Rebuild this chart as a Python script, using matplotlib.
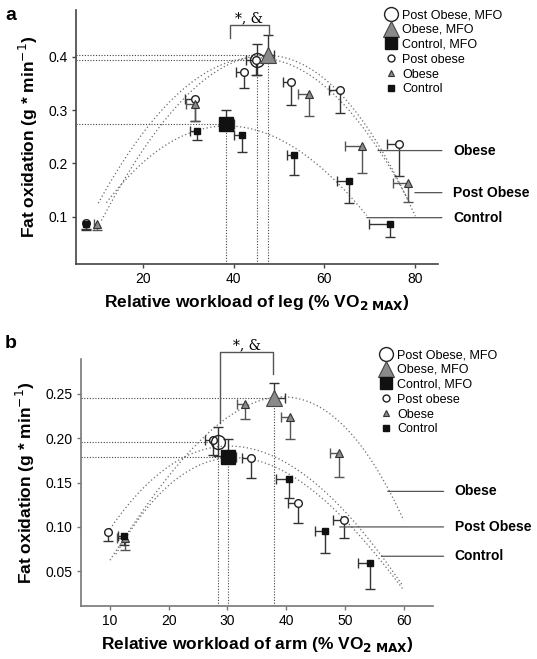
import numpy as np
import matplotlib
matplotlib.use("Agg")
import matplotlib.pyplot as plt
from matplotlib.lines import Line2D

plt.rcParams['font.family'] = ['Liberation Sans', 'DejaVu Sans']

# ---------------- Panel a (leg) data ----------------
post_leg_x = [7.4, 31.4, 42.2, 45.0, 52.7, 63.5, 76.5]
post_leg_y = [0.088, 0.320, 0.372, 0.395, 0.352, 0.338, 0.236]
post_leg_yerr = [0.012, 0.040, 0.031, 0.029, 0.043, 0.044, 0.059]
post_leg_xerr = [0.0, 2.0, 1.7, 2.3, 1.8, 2.5, 2.8]

obese_leg_x = [10.0, 31.6, 56.7, 68.3, 78.4]
obese_leg_y = [0.087, 0.311, 0.331, 0.232, 0.164]
obese_leg_yerr = [0.013, 0.031, 0.042, 0.051, 0.037]
obese_leg_xerr = [0.8, 2.0, 2.6, 3.7, 3.4]

ctrl_leg_x = [7.4, 32.0, 41.8, 53.4, 65.4, 74.4]
ctrl_leg_y = [0.087, 0.261, 0.253, 0.215, 0.167, 0.087]
ctrl_leg_yerr = [0.012, 0.017, 0.032, 0.037, 0.041, 0.026]
ctrl_leg_xerr = [0.0, 1.7, 1.7, 1.7, 2.7, 4.5]

# MFO points (post obese, obese, control)
mfo_leg_x = [45.1, 47.6, 38.4]
mfo_leg_y = [0.395, 0.403, 0.274]
mfo_leg_yerr_up = [0.030, 0.038, 0.027]
mfo_leg_xerr_right = [0.0, 1.2, 1.6]

# fitted curves, points
post_leg_curve_x = [10.2, 14.1, 20.1, 27.3, 34.7, 42.0, 45.1, 53.0, 60.5, 67.8, 73.7, 78.7]
post_leg_curve_y = [0.115, 0.190, 0.265, 0.330, 0.372, 0.391, 0.395, 0.380, 0.341, 0.287, 0.206, 0.119]
obese_leg_curve_x = [10.9, 15.7, 27.4, 34.7, 42.0, 47.5, 55.0, 62.0, 67.0, 71.8, 80.0]
obese_leg_curve_y = [0.090, 0.169, 0.313, 0.359, 0.390, 0.403, 0.390, 0.350, 0.300, 0.224, 0.104]
ctrl_leg_curve_x = [12.0, 15.0, 19.4, 24.5, 30.5, 38.4, 47.3, 56.9, 63.4, 69.3]
ctrl_leg_curve_y = [0.120, 0.165, 0.200, 0.228, 0.255, 0.273, 0.253, 0.209, 0.162, 0.100]

# ---------------- Panel b (arm) data ----------------
post_arm_x = [9.7, 27.6, 34.0, 42.1, 49.8]
post_arm_y = [0.094, 0.198, 0.178, 0.127, 0.108]
post_arm_yerr = [0.010, 0.017, 0.023, 0.023, 0.020]
post_arm_xerr = [0.0, 1.5, 1.6, 1.8, 1.9]

obese_arm_x = [12.5, 33.0, 40.7, 49.0]
obese_arm_y = [0.087, 0.238, 0.224, 0.183]
obese_arm_yerr = [0.013, 0.017, 0.025, 0.027]
obese_arm_xerr = [1.3, 1.4, 1.5, 1.6]

ctrl_arm_x = [12.4, 40.5, 46.6, 54.2]
ctrl_arm_y = [0.090, 0.154, 0.095, 0.059]
ctrl_arm_yerr = [0.010, 0.022, 0.024, 0.029]
ctrl_arm_xerr = [1.0, 2.2, 1.7, 2.0]

mfo_arm_x = [28.4, 37.9, 30.1]
mfo_arm_y = [0.196, 0.245, 0.179]
mfo_arm_yerr_up = [0.016, 0.017, 0.020]
mfo_arm_xerr_right = [0.0, 1.9, 1.4]

obese_arm_curve_x = [10.0, 14.0, 20.8, 23.0, 25.3, 28.4, 33.0, 37.9, 45.0, 52.0, 57.3, 60.0]
obese_arm_curve_y = [0.061, 0.108, 0.157, 0.179, 0.198, 0.219, 0.237, 0.245, 0.235, 0.200, 0.141, 0.109]
post_arm_curve_x = [10.0, 12.3, 17.9, 23.6, 28.4, 37.8, 45.7, 52.5, 59.9]
post_arm_curve_y = [0.101, 0.116, 0.153, 0.182, 0.196, 0.178, 0.142, 0.101, 0.033]
ctrl_arm_curve_x = [11.0, 15.0, 20.0, 25.0, 30.1, 40.0, 47.4, 53.0, 60.0]
ctrl_arm_curve_y = [0.070, 0.110, 0.145, 0.168, 0.179, 0.164, 0.123, 0.085, 0.030]

legend_labels = ['Post Obese, MFO', 'Obese, MFO', 'Control, MFO',
                 'Post obese', 'Obese', 'Control']
curve_labels = ['Obese', 'Post Obese', 'Control']

W, H = 537, 659
fig = plt.figure(figsize=(W / 100, H / 100), dpi=100)

GREY_TRI = '#8a8a8a'
CURVE_C = '#6a6a6a'
ERR_C = '#333333'


def px_axes(l, t, r, b):
    return fig.add_axes([l / W, 1 - b / H, (r - l) / W, (b - t) / H])


def one_sided(ax, x, y, xerr, yerr, color, up=False, right=False, z=3):
    x = np.asarray(x); y = np.asarray(y)
    xerr = np.asarray(xerr); yerr = np.asarray(yerr)
    sign_y = 1 if up else -1
    sign_x = 1 if right else -1
    ax.vlines(x, y, y + sign_y * yerr, color=color, lw=1.0, zorder=z)
    ax.plot(x[yerr > 0], (y + sign_y * yerr)[yerr > 0], ls='none', marker='_',
            ms=7, mew=1.0, color=color, zorder=z)
    m = xerr > 0
    ax.hlines(y[m], x[m], x[m] + sign_x * xerr[m], color=color, lw=1.0, zorder=z)
    ax.plot((x + sign_x * xerr)[m], y[m], ls='none', marker='|', ms=7, mew=1.0,
            color=color, zorder=z)


def curve(ax, cx, cy):
    c = np.polyfit(cx, cy, 3)
    xs = np.linspace(min(cx), max(cx), 200)
    ax.plot(xs, np.polyval(c, xs), ls=(0, (1, 2)), color=CURVE_C, lw=0.9, zorder=2)


def panel(ax, xlim, ylim, xticks, yticks, yfmt,
          post, obese, ctrl, mfo, curves, labels_pos, bracket, xlabel, spine_c):
    ax.set_xlim(*xlim)
    ax.set_ylim(*ylim)
    for s in ['top', 'right']:
        ax.spines[s].set_visible(False)
    for s in ['left', 'bottom']:
        ax.spines[s].set_color(spine_c)
        ax.spines[s].set_linewidth(1.2)
    ax.set_xticks(xticks)
    ax.set_yticks(yticks)
    ax.set_yticklabels([yfmt.format(v) for v in yticks])
    ax.tick_params(direction='out', length=3, width=1, color=spine_c,
                   labelsize=10, pad=3)
    ax.set_ylabel('Fat oxidation (g * min$^{-1}$)', fontsize=12.5,
                  fontweight='bold', labelpad=6)
    ax.set_xlabel(xlabel, fontsize=12.5, fontweight='bold', labelpad=5)

    # curves
    for cx, cy in curves:
        curve(ax, cx, cy)

    # reference dotted lines from MFO points
    mx, my = mfo[0], mfo[1]
    for xv, yv in zip(mx, my):
        ax.plot([xlim[0], xv], [yv, yv], ls=(0, (1, 1.5)), color='#444444', lw=0.8, zorder=1)
        ax.plot([xv, xv], [ylim[0], yv], ls=(0, (1, 1.5)), color='#444444', lw=0.8, zorder=1)

    # error bars
    px, py, pye, pxe = post
    ox, oy, oye, oxe = obese
    cx_, cy_, cye, cxe = ctrl
    one_sided(ax, px, py, pxe, pye, ERR_C)
    one_sided(ax, ox, oy, oxe, oye, '#555555')
    one_sided(ax, cx_, cy_, cxe, cye, ERR_C)
    mye_up, mxe_r = mfo[2], mfo[3]
    one_sided(ax, mx, my, mxe_r, mye_up, ERR_C, up=True, right=True)
    # post obese MFO has symmetric vertical error bar
    one_sided(ax, [mx[0]], [my[0]], [0.0], [mye_up[0]], ERR_C)

    # markers
    ax.plot(px, py, ls='none', marker='o', ms=5.5, mfc='white', mec='#222222', mew=1.0, zorder=5)
    ax.plot(ox, oy, ls='none', marker='^', ms=5.5, mfc=GREY_TRI, mec='#333333', mew=0.8, zorder=5)
    ax.plot(cx_, cy_, ls='none', marker='s', ms=5, mfc='#111111', mec='#111111', zorder=5)
    ax.plot(mx[0], my[0], ls='none', marker='o', ms=10, mfc='none', mec='#222222', mew=1.0, zorder=6)
    ax.plot(mx[1], my[1], ls='none', marker='^', ms=11, mfc=GREY_TRI, mec='#444444', mew=0.8, zorder=6)
    ax.plot(mx[2], my[2], ls='none', marker='s', ms=10, mfc='#111111', mec='#111111', zorder=6)

    # curve labels with leader lines
    for lab, (x0, y0, xt) in zip(curve_labels, labels_pos):
        ax.annotate(lab, xy=(x0, y0), xytext=(xt, y0), textcoords='data',
                    ha='left', va='center', fontsize=10, fontweight='bold',
                    annotation_clip=False,
                    arrowprops=dict(arrowstyle='-', color='#555555', lw=0.9,
                                    shrinkA=6, shrinkB=0))

    # significance bracket
    bx0, bx1, btop, bl, br = bracket
    ax.plot([bx0, bx0, bx1, bx1], [bl, btop, btop, br], color='#555555', lw=1.0,
            clip_on=False, zorder=4)
    ax.text((bx0 + bx1) / 2, btop, '*, &', ha='center', va='bottom', fontsize=10,
            family='DejaVu Serif', clip_on=False)


ax1 = px_axes(76, 10, 438, 264)
panel(ax1, (5.3, 85), (0.011, 0.488), [20, 40, 60, 80], [0.1, 0.2, 0.3, 0.4], '{:.1f}',
      (post_leg_x, post_leg_y, post_leg_yerr, post_leg_xerr),
      (obese_leg_x, obese_leg_y, obese_leg_yerr, obese_leg_xerr),
      (ctrl_leg_x, ctrl_leg_y, ctrl_leg_yerr, ctrl_leg_xerr),
      (mfo_leg_x, mfo_leg_y, mfo_leg_yerr_up, mfo_leg_xerr_right),
      [(post_leg_curve_x, post_leg_curve_y), (obese_leg_curve_x, obese_leg_curve_y),
       (ctrl_leg_curve_x, ctrl_leg_curve_y)],
      [(71.8, 0.224, 88.3), (79.9, 0.145, 88.3), (69.3, 0.098, 88.3)],
      (39.1, 47.7, 0.459, 0.436, 0.441),
      'Relative workload of leg (% VO$_{\\mathbf{2\\ MAX}}$)', '#444444')

ax2 = px_axes(81, 359, 433, 606)
panel(ax2, (5.07, 65), (0.011, 0.289), [10, 20, 30, 40, 50, 60],
      [0.05, 0.10, 0.15, 0.20, 0.25], '{:.2f}',
      (post_arm_x, post_arm_y, post_arm_yerr, post_arm_xerr),
      (obese_arm_x, obese_arm_y, obese_arm_yerr, obese_arm_xerr),
      (ctrl_arm_x, ctrl_arm_y, ctrl_arm_yerr, ctrl_arm_xerr),
      (mfo_arm_x, mfo_arm_y, mfo_arm_yerr_up, mfo_arm_xerr_right),
      [(obese_arm_curve_x, obese_arm_curve_y), (post_arm_curve_x, post_arm_curve_y),
       (ctrl_arm_curve_x, ctrl_arm_curve_y)],
      [(57.3, 0.140, 68.7), (49.1, 0.100, 68.7), (56.2, 0.067, 68.7)],
      (28.7, 37.8, 0.2965, 0.217, 0.272),
      'Relative workload of arm (% VO$_{\\mathbf{2\\ MAX}}$)', '#777777')

fig.text(5 / W, 1 - 16 / H, 'a', fontsize=14, fontweight='bold', va='center')
fig.text(5 / W, 1 - 343 / H, 'b', fontsize=14, fontweight='bold', va='center')

# legends
handles = [
    Line2D([], [], ls='none', marker='o', ms=10, mfc='white', mec='#222222', mew=1.0),
    Line2D([], [], ls='none', marker='^', ms=11, mfc=GREY_TRI, mec='#444444', mew=0.8),
    Line2D([], [], ls='none', marker='s', ms=9, mfc='#111111', mec='#111111'),
    Line2D([], [], ls='none', marker='o', ms=5, mfc='white', mec='#222222', mew=1.0),
    Line2D([], [], ls='none', marker='^', ms=5, mfc=GREY_TRI, mec='#333333', mew=0.8),
    Line2D([], [], ls='none', marker='s', ms=4.5, mfc='#111111', mec='#111111'),
]
for anchor in [(384.8 / W, 1 - 9 / H), (379.8 / W, 1 - 349 / H)]:
    fig.legend(handles, legend_labels, loc='upper left', bbox_to_anchor=anchor,
               frameon=False, fontsize=9, handlelength=1.0, handletextpad=0.4,
               labelspacing=0.23, borderpad=0, borderaxespad=0)

fig.savefig('out.png', dpi=100)
